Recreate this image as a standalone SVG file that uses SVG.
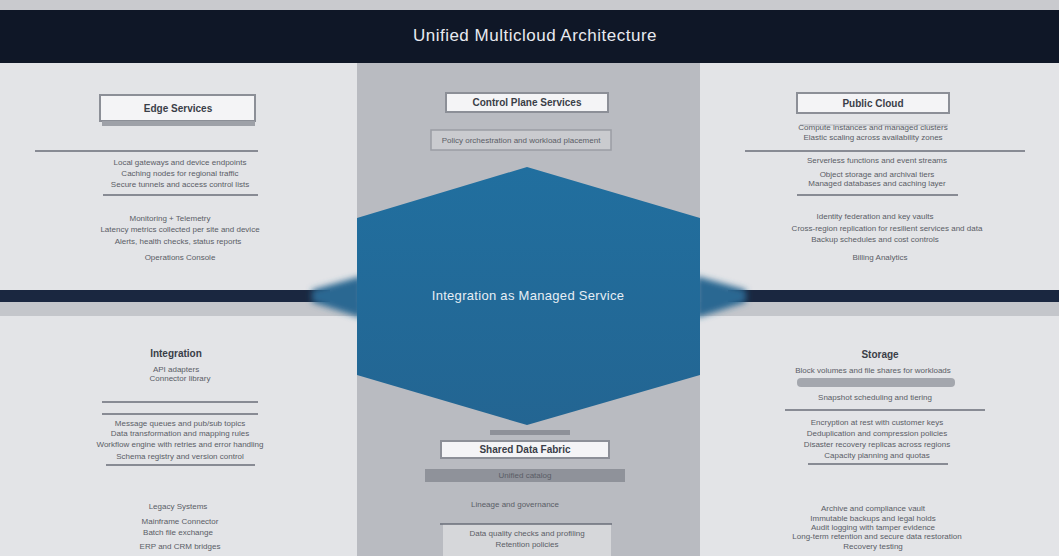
<svg xmlns="http://www.w3.org/2000/svg" width="1059" height="556" viewBox="0 0 1059 556">
<defs>
<style>
.t{font-family:"Liberation Sans",Arial,sans-serif;fill:#5a5d66;font-size:8px;text-anchor:middle}
.h{font-family:"Liberation Sans",Arial,sans-serif;fill:#3a3e48;font-size:10px;font-weight:bold;text-anchor:middle}
.ln{stroke:#6a6e78;stroke-width:1.5}
.lbl{fill:#f4f4f6;stroke:#8c8f97;stroke-width:2}
.bar{fill:#8e9199}
</style>
<filter id="blur" x="-50%" y="-50%" width="200%" height="200%"><feGaussianBlur stdDeviation="3"/></filter>
<linearGradient id="hexg" x1="0" y1="0" x2="0" y2="1">
<stop offset="0" stop-color="#216f9f"/><stop offset="1" stop-color="#236592"/>
</linearGradient>
</defs>
<rect width="1059" height="556" fill="#e3e4e7"/>
<rect x="357" y="62" width="343" height="494" fill="#b9bbc1"/>
<rect x="0" y="302" width="1059" height="14" fill="#c4c6cb"/>

<g id="title">
<rect x="0" y="0" width="1059" height="10" fill="#c9cace"/>
<rect x="0" y="10" width="1059" height="53" fill="#0f1727"/>
<text x="535" y="41" font-family="'Liberation Sans',Arial,sans-serif" font-size="17" fill="#e8eaf0" text-anchor="middle" letter-spacing="0.5">Unified Multicloud Architecture</text>
</g>

<g id="connectors">
<rect x="0" y="290" width="330" height="12" fill="#1a2740"/>
<rect x="728" y="290" width="331" height="12" fill="#1a2740"/>
<polygon points="312,290 362,276 362,318 312,302" fill="#2a6892" filter="url(#blur)"/>
<polygon points="746,290 696,276 696,318 746,302" fill="#2a6892" filter="url(#blur)"/>
</g>

<g id="panel-top-left">
<rect x="100" y="95" width="155" height="26" class="lbl"/>
<rect x="102" y="121" width="153" height="5" fill="#9ea1a8"/>
<text x="178" y="112" class="h">Edge Services</text>
<line x1="35" y1="151" x2="258" y2="151" class="ln"/>
<text x="180" y="165" class="t">Local gateways and device endpoints</text>
<text x="180" y="176" class="t">Caching nodes for regional traffic</text>
<text x="180" y="187" class="t">Secure tunnels and access control lists</text>
<line x1="103" y1="195" x2="258" y2="195" class="ln"/>
<text x="170" y="221" class="t">Monitoring + Telemetry</text>
<text x="180" y="232" class="t">Latency metrics collected per site and device</text>
<text x="178" y="244" class="t">Alerts, health checks, status reports</text>
<text x="180" y="260" class="t">Operations Console</text>
</g>

<g id="panel-top-center">
<rect x="446" y="93" width="162" height="19" class="lbl"/>
<text x="527" y="106" class="h" font-size="9">Control Plane Services</text>
<rect x="431" y="130" width="180" height="20" fill="#cacbcf" stroke="#9a9da4" stroke-width="1.5"/>
<text x="521" y="143" class="t">Policy orchestration and workload placement</text>
</g>

<g id="panel-top-right">
<rect x="797" y="93" width="152" height="20" class="lbl"/>
<text x="873" y="107" class="h">Public Cloud</text>
<line x1="800" y1="125" x2="948" y2="125" stroke="#b0b3ba" stroke-width="1"/>
<text x="873" y="130" class="t">Compute instances and managed clusters</text>
<text x="873" y="140" class="t">Elastic scaling across availability zones</text>
<line x1="745" y1="151" x2="1025" y2="151" class="ln"/>
<text x="877" y="163" class="t">Serverless functions and event streams</text>
<text x="877" y="177" class="t">Object storage and archival tiers</text>
<text x="877" y="186" class="t">Managed databases and caching layer</text>
<line x1="797" y1="195" x2="958" y2="195" class="ln"/>
<text x="875" y="219" class="t">Identity federation and key vaults</text>
<text x="887" y="231" class="t">Cross-region replication for resilient services and data</text>
<text x="875" y="242" class="t">Backup schedules and cost controls</text>
<text x="880" y="260" class="t">Billing Analytics</text>
</g>

<g id="panel-bottom-left">
<text x="176" y="357" class="h">Integration</text>
<text x="176" y="372" class="t">API adapters</text>
<text x="180" y="381" class="t">Connector library</text>
<line x1="102" y1="402" x2="258" y2="402" class="ln"/>
<line x1="102" y1="414" x2="258" y2="414" class="ln"/>
<text x="180" y="426" class="t">Message queues and pub/sub topics</text>
<text x="180" y="436" class="t">Data transformation and mapping rules</text>
<text x="180" y="447" class="t">Workflow engine with retries and error handling</text>
<text x="180" y="459" class="t">Schema registry and version control</text>
<line x1="106" y1="465" x2="255" y2="465" class="ln"/>
<text x="178" y="509" class="t" fill="#b0b3b9">Legacy Systems</text>
<text x="180" y="524" class="t" font-size="9" fill="#3f434c">Mainframe Connector</text>
<text x="178" y="535" class="t">Batch file exchange</text>
<text x="180" y="549" class="t">ERP and CRM bridges</text>
</g>

<g id="panel-bottom-center">
<rect x="490" y="430" width="80" height="5" class="bar"/>
<rect x="441" y="441" width="168" height="17" class="lbl"/>
<text x="525" y="453" class="h" font-size="9">Shared Data Fabric</text>
<rect x="425" y="469" width="200" height="13" fill="#8f929a"/>
<text x="525" y="478" class="t" fill="#b8bac0">Unified catalog</text>
<text x="515" y="507" class="t">Lineage and governance</text>
<rect x="443" y="524" width="168" height="32" fill="#d6d7da"/>
<line x1="440" y1="524" x2="612" y2="524" class="ln"/>
<text x="527" y="536" class="t">Data quality checks and profiling</text>
<text x="527" y="547" class="t">Retention policies</text>
</g>

<g id="panel-bottom-right">
<text x="880" y="358" class="h">Storage</text>
<text x="873" y="373" class="t">Block volumes and file shares for workloads</text>
<rect x="797" y="378" width="158" height="9" rx="4" fill="#a4a7ae"/>
<text x="875" y="400" class="t">Snapshot scheduling and tiering</text>
<line x1="785" y1="410" x2="985" y2="410" class="ln"/>
<text x="877" y="425" class="t">Encryption at rest with customer keys</text>
<text x="877" y="436" class="t">Deduplication and compression policies</text>
<text x="877" y="447" class="t">Disaster recovery replicas across regions</text>
<text x="877" y="458" class="t">Capacity planning and quotas</text>
<line x1="808" y1="464" x2="948" y2="464" class="ln"/>
<text x="873" y="511" class="t">Archive and compliance vault</text>
<text x="873" y="521" class="t">Immutable backups and legal holds</text>
<text x="873" y="530" class="t">Audit logging with tamper evidence</text>
<text x="877" y="539" class="t">Long-term retention and secure data restoration</text>
<text x="873" y="549" class="t">Recovery testing</text>
</g>

<g id="hub">
<polygon points="527,167 700,218 700,375 527,425 357,375 357,218" fill="url(#hexg)"/>
<text x="528" y="300" font-family="'Liberation Sans',Arial,sans-serif" font-size="13" fill="#e6eef5" text-anchor="middle" letter-spacing="0.3">Integration as Managed Service</text>
</g>
</svg>
